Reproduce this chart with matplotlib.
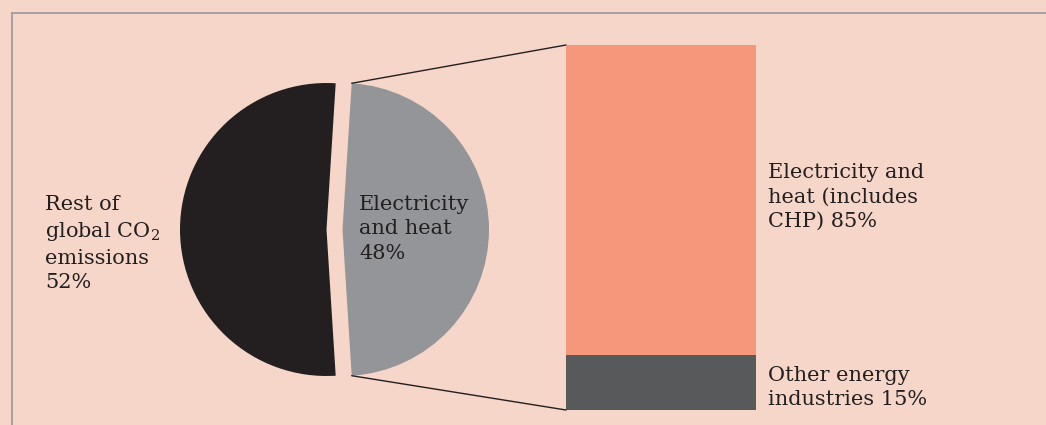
import matplotlib
matplotlib.use("Agg")
import matplotlib.pyplot as plt
from matplotlib.patches import ConnectionPatch
import numpy as np

# ---- data ----
pie_labels = ["Rest of\nglobal CO$_2$\nemissions\n52%", "Electricity\nand heat\n48%"]
pie_values = [52, 48]
bar_labels = ["Other energy\nindustries 15%", "Electricity and\nheat (includes\nCHP) 85%"]
bar_values = [15, 85]

# ---- style ----
BG = "#f6d6c9"
TXT = "#231f20"
pie_colors = ["#231f20", "#939598"]
bar_colors = ["#58595b", "#f5977a"]

plt.rcParams["font.family"] = ["DejaVu Serif"]
plt.rcParams["mathtext.fontset"] = "dejavuserif"

W, H = 1046, 425
fig = plt.figure(figsize=(W / 100, H / 100), dpi=100, facecolor=BG)

# pie axes: full figure, pixel-like data coords (y up)
ax = fig.add_axes([0, 0, 1, 1])
R = 146.5
cx, cy = 326.5, H - 229.5
start = 180 - pie_values[0] / 100 * 360 / 2
wedges, _ = ax.pie(pie_values, colors=pie_colors, startangle=start,
                   counterclock=True, radius=R, center=(cx, cy),
                   explode=[0, 16], frame=True)
ax.set_xlim(0, W)
ax.set_ylim(0, H)
ax.set_aspect("equal")
ax.axis("off")

fs = 15
ls = 1.36
ax.text(45, H - 195, pie_labels[0], ha="left", va="top", fontsize=fs,
        color=TXT, linespacing=ls)
ax.text(359, H - 195, pie_labels[1], ha="left", va="top", fontsize=fs,
        color=TXT, linespacing=ls)

# bar axes
bx0, by0, bw, bh = 566, 15, 190, 365
bax = fig.add_axes([bx0 / W, by0 / H, bw / W, bh / H])
bax.set_xlim(-0.5, 0.5)
bax.set_ylim(0, sum(bar_values))
bax.axis("off")
bottom = 0
for v, c in zip(bar_values, bar_colors):
    bax.bar(0, v, width=1.0, bottom=bottom, color=c, linewidth=0)
    bottom += v

ax.text(768, H - 163, bar_labels[1], ha="left", va="top", fontsize=fs,
        color=TXT, linespacing=ls)
ax.text(768, H - 366, bar_labels[0], ha="left", va="top", fontsize=fs,
        color=TXT, linespacing=ls)

# connector lines from the exploded wedge corners to the bar corners
gw = wedges[1]
gc = gw.center
for ang, ybar in [(gw.theta2, sum(bar_values)), (gw.theta1, 0)]:
    px = gc[0] + gw.r * np.cos(np.radians(ang))
    py = gc[1] + gw.r * np.sin(np.radians(ang))
    con = ConnectionPatch(xyA=(px, py), coordsA=ax.transData,
                          xyB=(-0.5, ybar), coordsB=bax.transData,
                          color=TXT, linewidth=1.0)
    fig.add_artist(con)

# border lines (top and left visible)
fig.add_artist(plt.Line2D([11.5 / W, 1], [1 - 12.5 / H, 1 - 12.5 / H],
                          transform=fig.transFigure, color="#9d9d9d", linewidth=1.3))
fig.add_artist(plt.Line2D([11.5 / W, 11.5 / W], [0, 1 - 12.5 / H],
                          transform=fig.transFigure, color="#9d9d9d", linewidth=1.3))

fig.savefig("out.png", dpi=100, facecolor=BG)
